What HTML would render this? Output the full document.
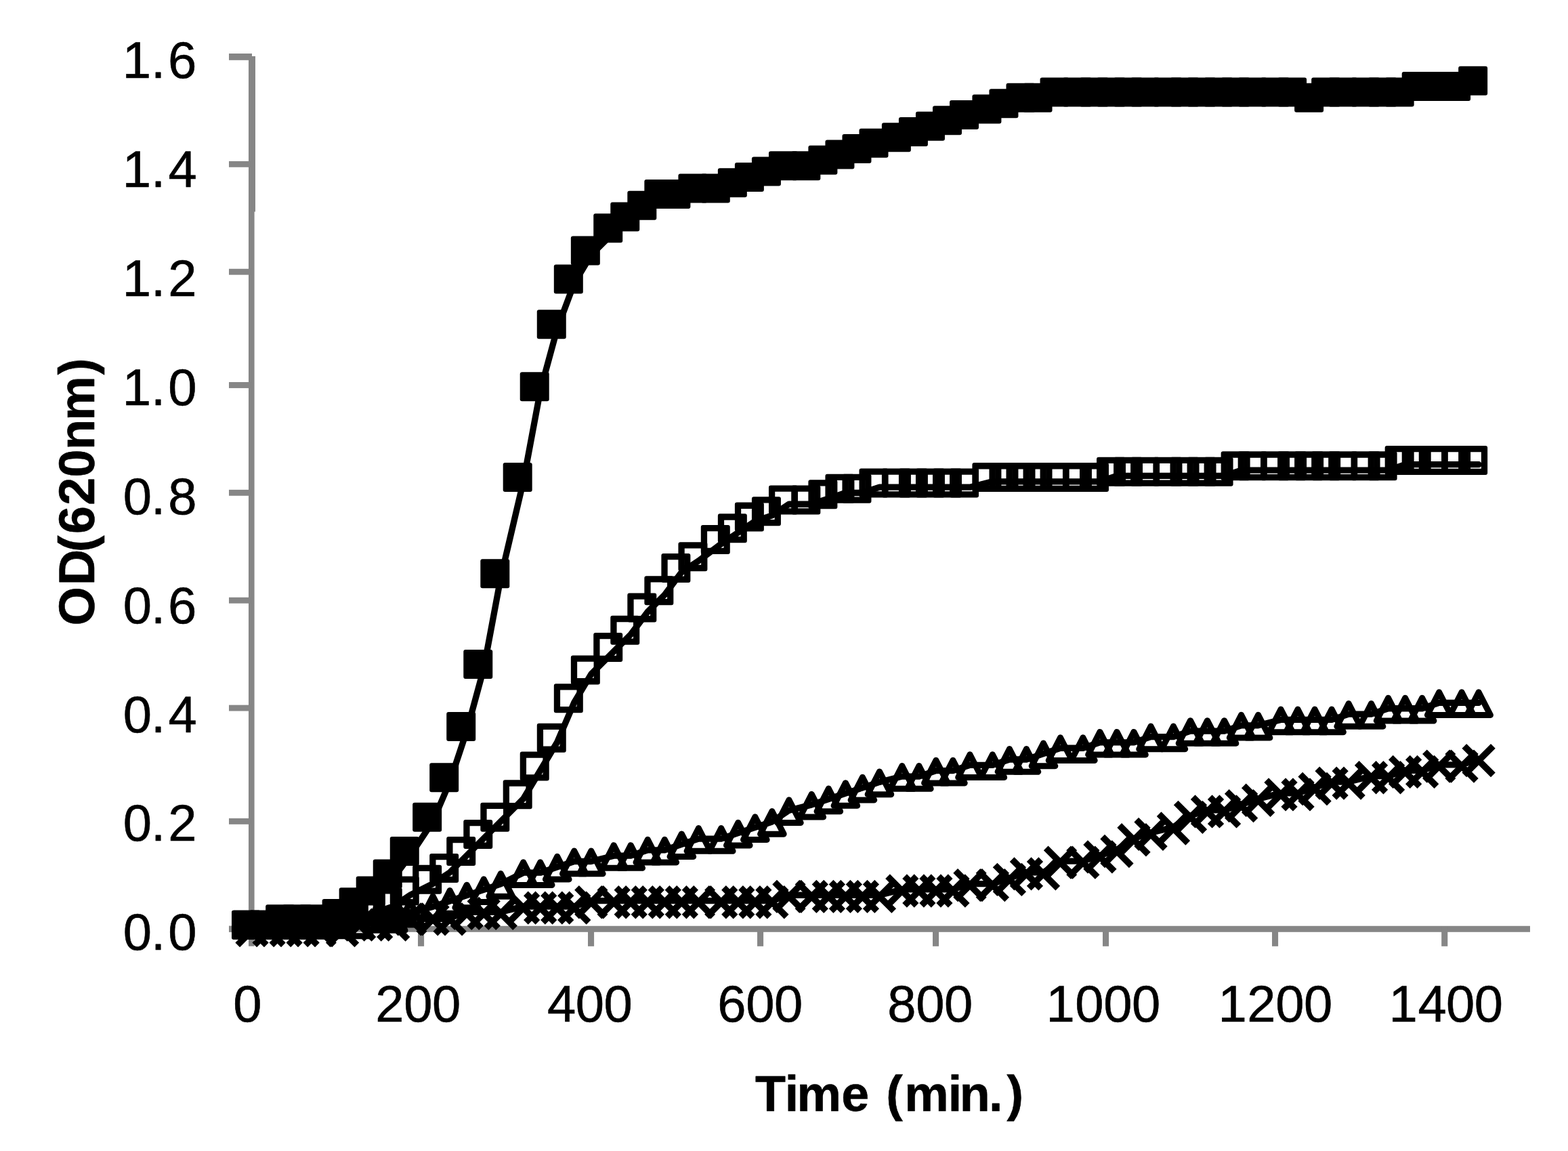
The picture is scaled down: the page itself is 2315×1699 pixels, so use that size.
<!DOCTYPE html>
<html lang="en"><head><meta charset="utf-8"><title>Growth curves: OD(620nm) vs Time (min.)</title>
<style>html,body{margin:0;padding:0;background:#fff}body{width:2315px;height:1699px;overflow:hidden}svg{display:block}text{font-family:"Liberation Sans",sans-serif;fill:#000;stroke:#000;stroke-width:0.6px;stroke-linejoin:round}.tk{font-size:76px}.tt{font-size:73.6px;font-weight:bold}.ln{fill:none;stroke:#000;stroke-width:9.3;stroke-linejoin:round;stroke-linecap:round}.mk{stroke:#000;stroke-width:9;stroke-linejoin:round}.xm{fill:none;stroke:#000;stroke-width:9.5;stroke-linecap:butt}</style></head><body>
<svg width="2315" height="1699" viewBox="0 0 2315 1699">
<rect width="2315" height="1699" fill="#fff"/>
<g fill="#868686">
<rect x="367" y="83" width="8.6" height="1313.7"/>
<rect x="367" y="83" width="10" height="229.5"/>
<rect x="338" y="79.02" width="34" height="9.8"/>
<rect x="338" y="237.9" width="34" height="8.9"/>
<rect x="338" y="396.78" width="34" height="8.9"/>
<rect x="338" y="564.02" width="34" height="8.9"/>
<rect x="338" y="722.89" width="34" height="8.9"/>
<rect x="338" y="881.77" width="34" height="8.9"/>
<rect x="338" y="1040.65" width="34" height="8.9"/>
<rect x="338" y="1207.89" width="34" height="8.9"/>
<rect x="338" y="1366.77" width="34" height="8.9"/>
<rect x="338" y="1366.8" width="1921" height="9"/>
<rect x="617" y="1367" width="9.1" height="29.8"/>
<rect x="868" y="1367" width="9.1" height="29.8"/>
<rect x="1118" y="1367" width="9.1" height="29.8"/>
<rect x="1377" y="1367" width="9.1" height="29.8"/>
<rect x="1628" y="1367" width="9.1" height="29.8"/>
<rect x="1878" y="1367" width="9.1" height="29.8"/>
<rect x="2128.2" y="1367" width="9.1" height="29.8"/>
</g>
<text class="tk" x="180.65 222.94 248.11" y="115.1">1.6</text>
<text class="tk" x="180.65 222.94 248.6" y="276">1.4</text>
<text class="tk" x="180.65 222.94 248.37" y="436.9">1.2</text>
<text class="tk" x="180.65 222.94 248.37" y="597.8">1.0</text>
<text class="tk" x="181.67 222.94 248.37" y="758.7">0.8</text>
<text class="tk" x="181.67 222.94 248.11" y="919.6">0.6</text>
<text class="tk" x="181.67 222.94 248.6" y="1080.5">0.4</text>
<text class="tk" x="181.67 222.94 248.37" y="1241.4">0.2</text>
<text class="tk" x="181.67 222.94 248.37" y="1402.3">0.0</text>
<text class="tk" x="344.17" y="1507.7">0</text>
<text class="tk" x="554.37 596.17 637.97" y="1507.7">200</text>
<text class="tk" x="808.1 849.67 891.47" y="1507.7">400</text>
<text class="tk" x="1059.21 1101.27 1143.07" y="1507.7">600</text>
<text class="tk" x="1310.37 1352.17 1393.97" y="1507.7">800</text>
<text class="tk" x="1544.55 1587.37 1629.17 1670.97" y="1507.7">1000</text>
<text class="tk" x="1798.55 1841.37 1883.17 1924.97" y="1507.7">1200</text>
<text class="tk" x="2050.45 2093.5 2135.07 2176.87" y="1507.7">1400</text>
<text class="tt" y="1639.7" x="1115.12 1158.81 1176.44 1242.26 1281.77 1308.24 1335.34 1399.71 1416.77 1460.01 1486.45">Time (min.)</text>
<text class="tt" transform="translate(139.2 0) rotate(-90)" y="0" x="-923.39 -863.99 -814.96 -787.9 -745.78 -704.42 -664.03 -620.86 -553.15">OD(620nm)</text>
<polyline class="ln" points="372.04,1371.38 397.07,1371.38 422.11,1363.02 447.15,1363.02 472.19,1363.02 505.57,1354.66 530.61,1337.93 555.65,1321.21 580.69,1296.12 605.72,1262.68 639.11,1212.5 664.15,1153.97 689.18,1078.71 714.22,986.73 739.26,852.94 772.64,710.78 797.68,576.99 822.72,485.01 847.76,418.11 872.8,376.3 906.18,342.86 931.22,326.13 956.26,309.41 981.29,292.68 1006.33,292.68 1031.37,284.32 1064.75,284.32 1089.79,275.96 1114.83,267.6 1139.87,259.24 1164.91,250.87 1198.29,250.87 1223.33,242.51 1248.37,234.15 1273.4,225.79 1298.44,217.43 1331.83,209.06 1356.86,200.7 1381.9,192.34 1406.94,183.98 1431.98,175.62 1465.36,167.25 1490.4,158.89 1515.44,150.53 1540.48,150.53 1565.51,142.17 1598.9,142.17 1623.94,142.17 1648.97,142.17 1674.01,142.17 1699.05,142.17 1732.43,142.17 1757.47,142.17 1782.51,142.17 1807.55,142.17 1832.59,142.17 1857.62,142.17 1891.01,142.17 1916.05,142.17 1941.08,150.53 1966.12,142.17 1991.16,142.17 2024.54,142.17 2049.58,142.17 2074.62,142.17 2099.66,133.81 2124.7,133.81 2158.08,133.81 2183.12,125.44"/>
<g fill="#000">
<rect x="342.09" y="1343.68" width="43" height="43" rx="3"/>
<rect x="367.12" y="1343.68" width="43" height="43" rx="3"/>
<rect x="392.16" y="1335.32" width="43" height="43" rx="3"/>
<rect x="417.2" y="1335.32" width="43" height="43" rx="3"/>
<rect x="442.24" y="1335.32" width="43" height="43" rx="3"/>
<rect x="475.62" y="1326.96" width="43" height="43" rx="3"/>
<rect x="500.66" y="1310.23" width="43" height="43" rx="3"/>
<rect x="525.7" y="1293.51" width="43" height="43" rx="3"/>
<rect x="550.74" y="1268.42" width="43" height="43" rx="3"/>
<rect x="575.77" y="1234.98" width="43" height="43" rx="3"/>
<rect x="609.16" y="1184.8" width="43" height="43" rx="3"/>
<rect x="634.2" y="1126.27" width="43" height="43" rx="3"/>
<rect x="659.23" y="1051.01" width="43" height="43" rx="3"/>
<rect x="684.27" y="959.03" width="43" height="43" rx="3"/>
<rect x="709.31" y="825.24" width="43" height="43" rx="3"/>
<rect x="742.69" y="683.08" width="43" height="43" rx="3"/>
<rect x="767.73" y="549.29" width="43" height="43" rx="3"/>
<rect x="792.77" y="457.31" width="43" height="43" rx="3"/>
<rect x="817.81" y="390.41" width="43" height="43" rx="3"/>
<rect x="842.85" y="348.6" width="43" height="43" rx="3"/>
<rect x="876.23" y="315.16" width="43" height="43" rx="3"/>
<rect x="901.27" y="298.43" width="43" height="43" rx="3"/>
<rect x="926.31" y="281.71" width="43" height="43" rx="3"/>
<rect x="951.34" y="264.98" width="43" height="43" rx="3"/>
<rect x="976.38" y="264.98" width="43" height="43" rx="3"/>
<rect x="1001.42" y="256.62" width="43" height="43" rx="3"/>
<rect x="1034.8" y="256.62" width="43" height="43" rx="3"/>
<rect x="1059.84" y="248.26" width="43" height="43" rx="3"/>
<rect x="1084.88" y="239.9" width="43" height="43" rx="3"/>
<rect x="1109.92" y="231.54" width="43" height="43" rx="3"/>
<rect x="1134.96" y="223.17" width="43" height="43" rx="3"/>
<rect x="1168.34" y="223.17" width="43" height="43" rx="3"/>
<rect x="1193.38" y="214.81" width="43" height="43" rx="3"/>
<rect x="1218.42" y="206.45" width="43" height="43" rx="3"/>
<rect x="1243.45" y="198.09" width="43" height="43" rx="3"/>
<rect x="1268.49" y="189.73" width="43" height="43" rx="3"/>
<rect x="1301.88" y="181.36" width="43" height="43" rx="3"/>
<rect x="1326.91" y="173" width="43" height="43" rx="3"/>
<rect x="1351.95" y="164.64" width="43" height="43" rx="3"/>
<rect x="1376.99" y="156.28" width="43" height="43" rx="3"/>
<rect x="1402.03" y="147.92" width="43" height="43" rx="3"/>
<rect x="1435.41" y="139.55" width="43" height="43" rx="3"/>
<rect x="1460.45" y="131.19" width="43" height="43" rx="3"/>
<rect x="1485.49" y="122.83" width="43" height="43" rx="3"/>
<rect x="1510.53" y="122.83" width="43" height="43" rx="3"/>
<rect x="1535.56" y="114.47" width="43" height="43" rx="3"/>
<rect x="1568.95" y="114.47" width="43" height="43" rx="3"/>
<rect x="1593.99" y="114.47" width="43" height="43" rx="3"/>
<rect x="1619.02" y="114.47" width="43" height="43" rx="3"/>
<rect x="1644.06" y="114.47" width="43" height="43" rx="3"/>
<rect x="1669.1" y="114.47" width="43" height="43" rx="3"/>
<rect x="1702.48" y="114.47" width="43" height="43" rx="3"/>
<rect x="1727.52" y="114.47" width="43" height="43" rx="3"/>
<rect x="1752.56" y="114.47" width="43" height="43" rx="3"/>
<rect x="1777.6" y="114.47" width="43" height="43" rx="3"/>
<rect x="1802.64" y="114.47" width="43" height="43" rx="3"/>
<rect x="1827.67" y="114.47" width="43" height="43" rx="3"/>
<rect x="1861.06" y="114.47" width="43" height="43" rx="3"/>
<rect x="1886.1" y="114.47" width="43" height="43" rx="3"/>
<rect x="1911.13" y="122.83" width="43" height="43" rx="3"/>
<rect x="1936.17" y="114.47" width="43" height="43" rx="3"/>
<rect x="1961.21" y="114.47" width="43" height="43" rx="3"/>
<rect x="1994.59" y="114.47" width="43" height="43" rx="3"/>
<rect x="2019.63" y="114.47" width="43" height="43" rx="3"/>
<rect x="2044.67" y="114.47" width="43" height="43" rx="3"/>
<rect x="2069.71" y="106.11" width="43" height="43" rx="3"/>
<rect x="2094.75" y="106.11" width="43" height="43" rx="3"/>
<rect x="2128.13" y="106.11" width="43" height="43" rx="3"/>
<rect x="2153.17" y="97.74" width="43" height="43" rx="3"/>
</g>
<polyline class="ln" points="372.04,1371.38 397.07,1371.38 422.11,1371.38 447.15,1371.38 472.19,1371.38 505.57,1363.02 530.61,1354.66 555.65,1346.3 580.69,1337.93 605.72,1321.21 639.11,1304.49 664.15,1287.76 689.18,1262.68 714.22,1237.59 739.26,1212.5 772.64,1179.06 797.68,1137.25 822.72,1095.44 847.76,1036.9 872.8,995.09 906.18,961.64 931.22,936.56 956.26,903.11 981.29,878.02 1006.33,844.58 1031.37,827.85 1064.75,802.77 1089.79,786.04 1114.83,769.32 1139.87,760.96 1164.91,744.23 1198.29,744.23 1223.33,735.87 1248.37,727.51 1273.4,727.51 1298.44,719.15 1331.83,719.15 1356.86,719.15 1381.9,719.15 1406.94,719.15 1431.98,719.15 1465.36,710.78 1490.4,710.78 1515.44,710.78 1540.48,710.78 1565.51,710.78 1598.9,710.78 1623.94,710.78 1648.97,702.42 1674.01,702.42 1699.05,702.42 1732.43,702.42 1757.47,702.42 1782.51,702.42 1807.55,702.42 1832.59,694.06 1857.62,694.06 1891.01,694.06 1916.05,694.06 1941.08,694.06 1966.12,694.06 1991.16,694.06 2024.54,694.06 2049.58,694.06 2074.62,685.7 2099.66,685.7 2124.7,685.7 2158.08,685.7 2183.12,685.7"/>
<g fill="#000" fill-rule="evenodd">
<path d="M345.09 1343.68h37a3 3 0 0 1 3 3v37a3 3 0 0 1 -3 3h-37a3 3 0 0 1 -3 -3v-37a3 3 0 0 1 3 -3zM351.39 1352.98v24.4h24.4v-24.4z"/>
<path d="M370.12 1343.68h37a3 3 0 0 1 3 3v37a3 3 0 0 1 -3 3h-37a3 3 0 0 1 -3 -3v-37a3 3 0 0 1 3 -3zM376.42 1352.98v24.4h24.4v-24.4z"/>
<path d="M395.16 1343.68h37a3 3 0 0 1 3 3v37a3 3 0 0 1 -3 3h-37a3 3 0 0 1 -3 -3v-37a3 3 0 0 1 3 -3zM401.46 1352.98v24.4h24.4v-24.4z"/>
<path d="M420.2 1343.68h37a3 3 0 0 1 3 3v37a3 3 0 0 1 -3 3h-37a3 3 0 0 1 -3 -3v-37a3 3 0 0 1 3 -3zM426.5 1352.98v24.4h24.4v-24.4z"/>
<path d="M445.24 1343.68h37a3 3 0 0 1 3 3v37a3 3 0 0 1 -3 3h-37a3 3 0 0 1 -3 -3v-37a3 3 0 0 1 3 -3zM451.54 1352.98v24.4h24.4v-24.4z"/>
<path d="M478.62 1335.32h37a3 3 0 0 1 3 3v37a3 3 0 0 1 -3 3h-37a3 3 0 0 1 -3 -3v-37a3 3 0 0 1 3 -3zM484.92 1344.62v24.4h24.4v-24.4z"/>
<path d="M503.66 1326.96h37a3 3 0 0 1 3 3v37a3 3 0 0 1 -3 3h-37a3 3 0 0 1 -3 -3v-37a3 3 0 0 1 3 -3zM509.96 1336.26v24.4h24.4v-24.4z"/>
<path d="M528.7 1318.6h37a3 3 0 0 1 3 3v37a3 3 0 0 1 -3 3h-37a3 3 0 0 1 -3 -3v-37a3 3 0 0 1 3 -3zM535 1327.9v24.4h24.4v-24.4z"/>
<path d="M553.74 1310.23h37a3 3 0 0 1 3 3v37a3 3 0 0 1 -3 3h-37a3 3 0 0 1 -3 -3v-37a3 3 0 0 1 3 -3zM560.04 1319.53v24.4h24.4v-24.4z"/>
<path d="M578.77 1293.51h37a3 3 0 0 1 3 3v37a3 3 0 0 1 -3 3h-37a3 3 0 0 1 -3 -3v-37a3 3 0 0 1 3 -3zM585.07 1302.81v24.4h24.4v-24.4z"/>
<path d="M612.16 1276.79h37a3 3 0 0 1 3 3v37a3 3 0 0 1 -3 3h-37a3 3 0 0 1 -3 -3v-37a3 3 0 0 1 3 -3zM618.46 1286.09v24.4h24.4v-24.4z"/>
<path d="M637.2 1260.06h37a3 3 0 0 1 3 3v37a3 3 0 0 1 -3 3h-37a3 3 0 0 1 -3 -3v-37a3 3 0 0 1 3 -3zM643.5 1269.36v24.4h24.4v-24.4z"/>
<path d="M662.23 1234.98h37a3 3 0 0 1 3 3v37a3 3 0 0 1 -3 3h-37a3 3 0 0 1 -3 -3v-37a3 3 0 0 1 3 -3zM668.53 1244.28v24.4h24.4v-24.4z"/>
<path d="M687.27 1209.89h37a3 3 0 0 1 3 3v37a3 3 0 0 1 -3 3h-37a3 3 0 0 1 -3 -3v-37a3 3 0 0 1 3 -3zM693.57 1219.19v24.4h24.4v-24.4z"/>
<path d="M712.31 1184.8h37a3 3 0 0 1 3 3v37a3 3 0 0 1 -3 3h-37a3 3 0 0 1 -3 -3v-37a3 3 0 0 1 3 -3zM718.61 1194.1v24.4h24.4v-24.4z"/>
<path d="M745.69 1151.36h37a3 3 0 0 1 3 3v37a3 3 0 0 1 -3 3h-37a3 3 0 0 1 -3 -3v-37a3 3 0 0 1 3 -3zM751.99 1160.66v24.4h24.4v-24.4z"/>
<path d="M770.73 1109.55h37a3 3 0 0 1 3 3v37a3 3 0 0 1 -3 3h-37a3 3 0 0 1 -3 -3v-37a3 3 0 0 1 3 -3zM777.03 1118.85v24.4h24.4v-24.4z"/>
<path d="M795.77 1067.74h37a3 3 0 0 1 3 3v37a3 3 0 0 1 -3 3h-37a3 3 0 0 1 -3 -3v-37a3 3 0 0 1 3 -3zM802.07 1077.04v24.4h24.4v-24.4z"/>
<path d="M820.81 1009.2h37a3 3 0 0 1 3 3v37a3 3 0 0 1 -3 3h-37a3 3 0 0 1 -3 -3v-37a3 3 0 0 1 3 -3zM827.11 1018.5v24.4h24.4v-24.4z"/>
<path d="M845.85 967.39h37a3 3 0 0 1 3 3v37a3 3 0 0 1 -3 3h-37a3 3 0 0 1 -3 -3v-37a3 3 0 0 1 3 -3zM852.15 976.69v24.4h24.4v-24.4z"/>
<path d="M879.23 933.94h37a3 3 0 0 1 3 3v37a3 3 0 0 1 -3 3h-37a3 3 0 0 1 -3 -3v-37a3 3 0 0 1 3 -3zM885.53 943.24v24.4h24.4v-24.4z"/>
<path d="M904.27 908.86h37a3 3 0 0 1 3 3v37a3 3 0 0 1 -3 3h-37a3 3 0 0 1 -3 -3v-37a3 3 0 0 1 3 -3zM910.57 918.16v24.4h24.4v-24.4z"/>
<path d="M929.31 875.41h37a3 3 0 0 1 3 3v37a3 3 0 0 1 -3 3h-37a3 3 0 0 1 -3 -3v-37a3 3 0 0 1 3 -3zM935.61 884.71v24.4h24.4v-24.4z"/>
<path d="M954.34 850.32h37a3 3 0 0 1 3 3v37a3 3 0 0 1 -3 3h-37a3 3 0 0 1 -3 -3v-37a3 3 0 0 1 3 -3zM960.64 859.62v24.4h24.4v-24.4z"/>
<path d="M979.38 816.88h37a3 3 0 0 1 3 3v37a3 3 0 0 1 -3 3h-37a3 3 0 0 1 -3 -3v-37a3 3 0 0 1 3 -3zM985.68 826.18v24.4h24.4v-24.4z"/>
<path d="M1004.42 800.15h37a3 3 0 0 1 3 3v37a3 3 0 0 1 -3 3h-37a3 3 0 0 1 -3 -3v-37a3 3 0 0 1 3 -3zM1010.72 809.45v24.4h24.4v-24.4z"/>
<path d="M1037.8 775.07h37a3 3 0 0 1 3 3v37a3 3 0 0 1 -3 3h-37a3 3 0 0 1 -3 -3v-37a3 3 0 0 1 3 -3zM1044.1 784.37v24.4h24.4v-24.4z"/>
<path d="M1062.84 758.34h37a3 3 0 0 1 3 3v37a3 3 0 0 1 -3 3h-37a3 3 0 0 1 -3 -3v-37a3 3 0 0 1 3 -3zM1069.14 767.64v24.4h24.4v-24.4z"/>
<path d="M1087.88 741.62h37a3 3 0 0 1 3 3v37a3 3 0 0 1 -3 3h-37a3 3 0 0 1 -3 -3v-37a3 3 0 0 1 3 -3zM1094.18 750.92v24.4h24.4v-24.4z"/>
<path d="M1112.92 733.26h37a3 3 0 0 1 3 3v37a3 3 0 0 1 -3 3h-37a3 3 0 0 1 -3 -3v-37a3 3 0 0 1 3 -3zM1119.22 742.56v24.4h24.4v-24.4z"/>
<path d="M1137.96 716.53h37a3 3 0 0 1 3 3v37a3 3 0 0 1 -3 3h-37a3 3 0 0 1 -3 -3v-37a3 3 0 0 1 3 -3zM1144.26 725.83v24.4h24.4v-24.4z"/>
<path d="M1171.34 716.53h37a3 3 0 0 1 3 3v37a3 3 0 0 1 -3 3h-37a3 3 0 0 1 -3 -3v-37a3 3 0 0 1 3 -3zM1177.64 725.83v24.4h24.4v-24.4z"/>
<path d="M1196.38 708.17h37a3 3 0 0 1 3 3v37a3 3 0 0 1 -3 3h-37a3 3 0 0 1 -3 -3v-37a3 3 0 0 1 3 -3zM1202.68 717.47v24.4h24.4v-24.4z"/>
<path d="M1221.42 699.81h37a3 3 0 0 1 3 3v37a3 3 0 0 1 -3 3h-37a3 3 0 0 1 -3 -3v-37a3 3 0 0 1 3 -3zM1227.72 709.11v24.4h24.4v-24.4z"/>
<path d="M1246.45 699.81h37a3 3 0 0 1 3 3v37a3 3 0 0 1 -3 3h-37a3 3 0 0 1 -3 -3v-37a3 3 0 0 1 3 -3zM1252.75 709.11v24.4h24.4v-24.4z"/>
<path d="M1271.49 691.45h37a3 3 0 0 1 3 3v37a3 3 0 0 1 -3 3h-37a3 3 0 0 1 -3 -3v-37a3 3 0 0 1 3 -3zM1277.79 700.75v24.4h24.4v-24.4z"/>
<path d="M1304.88 691.45h37a3 3 0 0 1 3 3v37a3 3 0 0 1 -3 3h-37a3 3 0 0 1 -3 -3v-37a3 3 0 0 1 3 -3zM1311.18 700.75v24.4h24.4v-24.4z"/>
<path d="M1329.91 691.45h37a3 3 0 0 1 3 3v37a3 3 0 0 1 -3 3h-37a3 3 0 0 1 -3 -3v-37a3 3 0 0 1 3 -3zM1336.21 700.75v24.4h24.4v-24.4z"/>
<path d="M1354.95 691.45h37a3 3 0 0 1 3 3v37a3 3 0 0 1 -3 3h-37a3 3 0 0 1 -3 -3v-37a3 3 0 0 1 3 -3zM1361.25 700.75v24.4h24.4v-24.4z"/>
<path d="M1379.99 691.45h37a3 3 0 0 1 3 3v37a3 3 0 0 1 -3 3h-37a3 3 0 0 1 -3 -3v-37a3 3 0 0 1 3 -3zM1386.29 700.75v24.4h24.4v-24.4z"/>
<path d="M1405.03 691.45h37a3 3 0 0 1 3 3v37a3 3 0 0 1 -3 3h-37a3 3 0 0 1 -3 -3v-37a3 3 0 0 1 3 -3zM1411.33 700.75v24.4h24.4v-24.4z"/>
<path d="M1438.41 683.08h37a3 3 0 0 1 3 3v37a3 3 0 0 1 -3 3h-37a3 3 0 0 1 -3 -3v-37a3 3 0 0 1 3 -3zM1444.71 692.38v24.4h24.4v-24.4z"/>
<path d="M1463.45 683.08h37a3 3 0 0 1 3 3v37a3 3 0 0 1 -3 3h-37a3 3 0 0 1 -3 -3v-37a3 3 0 0 1 3 -3zM1469.75 692.38v24.4h24.4v-24.4z"/>
<path d="M1488.49 683.08h37a3 3 0 0 1 3 3v37a3 3 0 0 1 -3 3h-37a3 3 0 0 1 -3 -3v-37a3 3 0 0 1 3 -3zM1494.79 692.38v24.4h24.4v-24.4z"/>
<path d="M1513.53 683.08h37a3 3 0 0 1 3 3v37a3 3 0 0 1 -3 3h-37a3 3 0 0 1 -3 -3v-37a3 3 0 0 1 3 -3zM1519.83 692.38v24.4h24.4v-24.4z"/>
<path d="M1538.56 683.08h37a3 3 0 0 1 3 3v37a3 3 0 0 1 -3 3h-37a3 3 0 0 1 -3 -3v-37a3 3 0 0 1 3 -3zM1544.86 692.38v24.4h24.4v-24.4z"/>
<path d="M1571.95 683.08h37a3 3 0 0 1 3 3v37a3 3 0 0 1 -3 3h-37a3 3 0 0 1 -3 -3v-37a3 3 0 0 1 3 -3zM1578.25 692.38v24.4h24.4v-24.4z"/>
<path d="M1596.99 683.08h37a3 3 0 0 1 3 3v37a3 3 0 0 1 -3 3h-37a3 3 0 0 1 -3 -3v-37a3 3 0 0 1 3 -3zM1603.29 692.38v24.4h24.4v-24.4z"/>
<path d="M1622.02 674.72h37a3 3 0 0 1 3 3v37a3 3 0 0 1 -3 3h-37a3 3 0 0 1 -3 -3v-37a3 3 0 0 1 3 -3zM1628.32 684.02v24.4h24.4v-24.4z"/>
<path d="M1647.06 674.72h37a3 3 0 0 1 3 3v37a3 3 0 0 1 -3 3h-37a3 3 0 0 1 -3 -3v-37a3 3 0 0 1 3 -3zM1653.36 684.02v24.4h24.4v-24.4z"/>
<path d="M1672.1 674.72h37a3 3 0 0 1 3 3v37a3 3 0 0 1 -3 3h-37a3 3 0 0 1 -3 -3v-37a3 3 0 0 1 3 -3zM1678.4 684.02v24.4h24.4v-24.4z"/>
<path d="M1705.48 674.72h37a3 3 0 0 1 3 3v37a3 3 0 0 1 -3 3h-37a3 3 0 0 1 -3 -3v-37a3 3 0 0 1 3 -3zM1711.78 684.02v24.4h24.4v-24.4z"/>
<path d="M1730.52 674.72h37a3 3 0 0 1 3 3v37a3 3 0 0 1 -3 3h-37a3 3 0 0 1 -3 -3v-37a3 3 0 0 1 3 -3zM1736.82 684.02v24.4h24.4v-24.4z"/>
<path d="M1755.56 674.72h37a3 3 0 0 1 3 3v37a3 3 0 0 1 -3 3h-37a3 3 0 0 1 -3 -3v-37a3 3 0 0 1 3 -3zM1761.86 684.02v24.4h24.4v-24.4z"/>
<path d="M1780.6 674.72h37a3 3 0 0 1 3 3v37a3 3 0 0 1 -3 3h-37a3 3 0 0 1 -3 -3v-37a3 3 0 0 1 3 -3zM1786.9 684.02v24.4h24.4v-24.4z"/>
<path d="M1805.64 666.36h37a3 3 0 0 1 3 3v37a3 3 0 0 1 -3 3h-37a3 3 0 0 1 -3 -3v-37a3 3 0 0 1 3 -3zM1811.94 675.66v24.4h24.4v-24.4z"/>
<path d="M1830.67 666.36h37a3 3 0 0 1 3 3v37a3 3 0 0 1 -3 3h-37a3 3 0 0 1 -3 -3v-37a3 3 0 0 1 3 -3zM1836.97 675.66v24.4h24.4v-24.4z"/>
<path d="M1864.06 666.36h37a3 3 0 0 1 3 3v37a3 3 0 0 1 -3 3h-37a3 3 0 0 1 -3 -3v-37a3 3 0 0 1 3 -3zM1870.36 675.66v24.4h24.4v-24.4z"/>
<path d="M1889.1 666.36h37a3 3 0 0 1 3 3v37a3 3 0 0 1 -3 3h-37a3 3 0 0 1 -3 -3v-37a3 3 0 0 1 3 -3zM1895.4 675.66v24.4h24.4v-24.4z"/>
<path d="M1914.13 666.36h37a3 3 0 0 1 3 3v37a3 3 0 0 1 -3 3h-37a3 3 0 0 1 -3 -3v-37a3 3 0 0 1 3 -3zM1920.43 675.66v24.4h24.4v-24.4z"/>
<path d="M1939.17 666.36h37a3 3 0 0 1 3 3v37a3 3 0 0 1 -3 3h-37a3 3 0 0 1 -3 -3v-37a3 3 0 0 1 3 -3zM1945.47 675.66v24.4h24.4v-24.4z"/>
<path d="M1964.21 666.36h37a3 3 0 0 1 3 3v37a3 3 0 0 1 -3 3h-37a3 3 0 0 1 -3 -3v-37a3 3 0 0 1 3 -3zM1970.51 675.66v24.4h24.4v-24.4z"/>
<path d="M1997.59 666.36h37a3 3 0 0 1 3 3v37a3 3 0 0 1 -3 3h-37a3 3 0 0 1 -3 -3v-37a3 3 0 0 1 3 -3zM2003.89 675.66v24.4h24.4v-24.4z"/>
<path d="M2022.63 666.36h37a3 3 0 0 1 3 3v37a3 3 0 0 1 -3 3h-37a3 3 0 0 1 -3 -3v-37a3 3 0 0 1 3 -3zM2028.93 675.66v24.4h24.4v-24.4z"/>
<path d="M2047.67 658h37a3 3 0 0 1 3 3v37a3 3 0 0 1 -3 3h-37a3 3 0 0 1 -3 -3v-37a3 3 0 0 1 3 -3zM2053.97 667.3v24.4h24.4v-24.4z"/>
<path d="M2072.71 658h37a3 3 0 0 1 3 3v37a3 3 0 0 1 -3 3h-37a3 3 0 0 1 -3 -3v-37a3 3 0 0 1 3 -3zM2079.01 667.3v24.4h24.4v-24.4z"/>
<path d="M2097.75 658h37a3 3 0 0 1 3 3v37a3 3 0 0 1 -3 3h-37a3 3 0 0 1 -3 -3v-37a3 3 0 0 1 3 -3zM2104.05 667.3v24.4h24.4v-24.4z"/>
<path d="M2131.13 658h37a3 3 0 0 1 3 3v37a3 3 0 0 1 -3 3h-37a3 3 0 0 1 -3 -3v-37a3 3 0 0 1 3 -3zM2137.43 667.3v24.4h24.4v-24.4z"/>
<path d="M2156.17 658h37a3 3 0 0 1 3 3v37a3 3 0 0 1 -3 3h-37a3 3 0 0 1 -3 -3v-37a3 3 0 0 1 3 -3zM2162.47 667.3v24.4h24.4v-24.4z"/>
</g>
<polyline class="ln" points="372.04,1363.48 397.07,1363.48 422.11,1363.48 447.15,1363.48 472.19,1363.48 505.57,1363.48 530.61,1363.48 555.65,1355.12 580.69,1355.12 605.72,1346.76 639.11,1338.4 664.15,1330.03 689.18,1321.67 714.22,1313.31 739.26,1304.95 772.64,1288.22 797.68,1288.22 822.72,1279.86 847.76,1271.5 872.8,1271.5 906.18,1263.14 931.22,1263.14 956.26,1254.78 981.29,1254.78 1006.33,1246.41 1031.37,1238.05 1064.75,1238.05 1089.79,1229.69 1114.83,1221.33 1139.87,1212.97 1164.91,1196.24 1198.29,1187.88 1223.33,1179.52 1248.37,1171.16 1273.4,1162.79 1298.44,1154.43 1331.83,1146.07 1356.86,1146.07 1381.9,1137.71 1406.94,1137.71 1431.98,1129.35 1465.36,1129.35 1490.4,1120.98 1515.44,1120.98 1540.48,1112.62 1565.51,1104.26 1598.9,1104.26 1623.94,1095.9 1648.97,1095.9 1674.01,1095.9 1699.05,1087.54 1732.43,1087.54 1757.47,1079.17 1782.51,1079.17 1807.55,1079.17 1832.59,1070.81 1857.62,1070.81 1891.01,1062.45 1916.05,1062.45 1941.08,1062.45 1966.12,1062.45 1991.16,1054.09 2024.54,1054.09 2049.58,1045.73 2074.62,1045.73 2099.66,1045.73 2124.7,1037.36 2158.08,1037.36 2183.12,1037.36"/>
<g class="mk" fill="none">
<path d="M372.04 1347.98L389.34 1381.68L354.74 1381.68Z"/>
<path d="M397.07 1347.98L414.37 1381.68L379.77 1381.68Z"/>
<path d="M422.11 1347.98L439.41 1381.68L404.81 1381.68Z"/>
<path d="M447.15 1347.98L464.45 1381.68L429.85 1381.68Z"/>
<path d="M472.19 1347.98L489.49 1381.68L454.89 1381.68Z"/>
<path d="M505.57 1347.98L522.87 1381.68L488.27 1381.68Z"/>
<path d="M530.61 1347.98L547.91 1381.68L513.31 1381.68Z"/>
<path d="M555.65 1339.62L572.95 1373.32L538.35 1373.32Z"/>
<path d="M580.69 1339.62L597.99 1373.32L563.39 1373.32Z"/>
<path d="M605.72 1331.26L623.02 1364.96L588.42 1364.96Z"/>
<path d="M639.11 1322.9L656.41 1356.6L621.81 1356.6Z"/>
<path d="M664.15 1314.53L681.45 1348.23L646.85 1348.23Z"/>
<path d="M689.18 1306.17L706.48 1339.87L671.88 1339.87Z"/>
<path d="M714.22 1297.81L731.52 1331.51L696.92 1331.51Z"/>
<path d="M739.26 1289.45L756.56 1323.15L721.96 1323.15Z"/>
<path d="M772.64 1272.72L789.94 1306.42L755.34 1306.42Z"/>
<path d="M797.68 1272.72L814.98 1306.42L780.38 1306.42Z"/>
<path d="M822.72 1264.36L840.02 1298.06L805.42 1298.06Z"/>
<path d="M847.76 1256L865.06 1289.7L830.46 1289.7Z"/>
<path d="M872.8 1256L890.1 1289.7L855.5 1289.7Z"/>
<path d="M906.18 1247.64L923.48 1281.34L888.88 1281.34Z"/>
<path d="M931.22 1247.64L948.52 1281.34L913.92 1281.34Z"/>
<path d="M956.26 1239.28L973.56 1272.98L938.96 1272.98Z"/>
<path d="M981.29 1239.28L998.59 1272.98L963.99 1272.98Z"/>
<path d="M1006.33 1230.91L1023.63 1264.61L989.03 1264.61Z"/>
<path d="M1031.37 1222.55L1048.67 1256.25L1014.07 1256.25Z"/>
<path d="M1064.75 1222.55L1082.05 1256.25L1047.45 1256.25Z"/>
<path d="M1089.79 1214.19L1107.09 1247.89L1072.49 1247.89Z"/>
<path d="M1114.83 1205.83L1132.13 1239.53L1097.53 1239.53Z"/>
<path d="M1139.87 1197.47L1157.17 1231.17L1122.57 1231.17Z"/>
<path d="M1164.91 1180.74L1182.21 1214.44L1147.61 1214.44Z"/>
<path d="M1198.29 1172.38L1215.59 1206.08L1180.99 1206.08Z"/>
<path d="M1223.33 1164.02L1240.63 1197.72L1206.03 1197.72Z"/>
<path d="M1248.37 1155.66L1265.67 1189.36L1231.07 1189.36Z"/>
<path d="M1273.4 1147.29L1290.7 1180.99L1256.1 1180.99Z"/>
<path d="M1298.44 1138.93L1315.74 1172.63L1281.14 1172.63Z"/>
<path d="M1331.83 1130.57L1349.13 1164.27L1314.53 1164.27Z"/>
<path d="M1356.86 1130.57L1374.16 1164.27L1339.56 1164.27Z"/>
<path d="M1381.9 1122.21L1399.2 1155.91L1364.6 1155.91Z"/>
<path d="M1406.94 1122.21L1424.24 1155.91L1389.64 1155.91Z"/>
<path d="M1431.98 1113.85L1449.28 1147.55L1414.68 1147.55Z"/>
<path d="M1465.36 1113.85L1482.66 1147.55L1448.06 1147.55Z"/>
<path d="M1490.4 1105.48L1507.7 1139.18L1473.1 1139.18Z"/>
<path d="M1515.44 1105.48L1532.74 1139.18L1498.14 1139.18Z"/>
<path d="M1540.48 1097.12L1557.78 1130.82L1523.18 1130.82Z"/>
<path d="M1565.51 1088.76L1582.81 1122.46L1548.21 1122.46Z"/>
<path d="M1598.9 1088.76L1616.2 1122.46L1581.6 1122.46Z"/>
<path d="M1623.94 1080.4L1641.24 1114.1L1606.64 1114.1Z"/>
<path d="M1648.97 1080.4L1666.27 1114.1L1631.67 1114.1Z"/>
<path d="M1674.01 1080.4L1691.31 1114.1L1656.71 1114.1Z"/>
<path d="M1699.05 1072.04L1716.35 1105.74L1681.75 1105.74Z"/>
<path d="M1732.43 1072.04L1749.73 1105.74L1715.13 1105.74Z"/>
<path d="M1757.47 1063.67L1774.77 1097.37L1740.17 1097.37Z"/>
<path d="M1782.51 1063.67L1799.81 1097.37L1765.21 1097.37Z"/>
<path d="M1807.55 1063.67L1824.85 1097.37L1790.25 1097.37Z"/>
<path d="M1832.59 1055.31L1849.89 1089.01L1815.29 1089.01Z"/>
<path d="M1857.62 1055.31L1874.92 1089.01L1840.32 1089.01Z"/>
<path d="M1891.01 1046.95L1908.31 1080.65L1873.71 1080.65Z"/>
<path d="M1916.05 1046.95L1933.35 1080.65L1898.75 1080.65Z"/>
<path d="M1941.08 1046.95L1958.38 1080.65L1923.78 1080.65Z"/>
<path d="M1966.12 1046.95L1983.42 1080.65L1948.82 1080.65Z"/>
<path d="M1991.16 1038.59L2008.46 1072.29L1973.86 1072.29Z"/>
<path d="M2024.54 1038.59L2041.84 1072.29L2007.24 1072.29Z"/>
<path d="M2049.58 1030.23L2066.88 1063.93L2032.28 1063.93Z"/>
<path d="M2074.62 1030.23L2091.92 1063.93L2057.32 1063.93Z"/>
<path d="M2099.66 1030.23L2116.96 1063.93L2082.36 1063.93Z"/>
<path d="M2124.7 1021.86L2142 1055.56L2107.4 1055.56Z"/>
<path d="M2158.08 1021.86L2175.38 1055.56L2140.78 1055.56Z"/>
<path d="M2183.12 1021.86L2200.42 1055.56L2165.82 1055.56Z"/>
</g>
<polyline class="ln" points="372.04,1371.44 397.07,1371.44 422.11,1371.44 447.15,1371.44 472.19,1371.44 505.57,1371.44 530.61,1363.08 555.65,1363.08 580.69,1363.08 605.72,1354.72 639.11,1354.72 664.15,1354.72 689.18,1346.36 714.22,1346.36 739.26,1346.36 772.64,1338 797.68,1338 822.72,1338 847.76,1338 872.8,1329.63 906.18,1329.63 931.22,1329.63 956.26,1329.63 981.29,1329.63 1006.33,1329.63 1031.37,1329.63 1064.75,1329.63 1089.79,1329.63 1114.83,1329.63 1139.87,1329.63 1164.91,1321.27 1198.29,1321.27 1223.33,1321.27 1248.37,1321.27 1273.4,1321.27 1298.44,1321.27 1331.83,1312.91 1356.86,1312.91 1381.9,1312.91 1406.94,1312.91 1431.98,1304.55 1465.36,1304.55 1490.4,1296.19 1515.44,1287.82 1540.48,1287.82 1565.51,1271.1 1598.9,1271.1 1623.94,1262.74 1648.97,1254.38 1674.01,1237.65 1699.05,1229.29 1732.43,1220.93 1757.47,1204.2 1782.51,1195.84 1807.55,1195.84 1832.59,1187.48 1857.62,1179.12 1891.01,1170.76 1916.05,1170.76 1941.08,1162.39 1966.12,1154.03 1991.16,1154.03 2024.54,1145.67 2049.58,1145.67 2074.62,1137.31 2099.66,1137.31 2124.7,1128.95 2158.08,1128.95 2183.12,1120.58"/>
<g class="xm">
<path d="M350.74 1352.24L393.34 1394.84M350.74 1394.84L393.34 1352.24"/>
<path d="M375.77 1352.24L418.37 1394.84M375.77 1394.84L418.37 1352.24"/>
<path d="M400.81 1352.24L443.41 1394.84M400.81 1394.84L443.41 1352.24"/>
<path d="M425.85 1352.24L468.45 1394.84M425.85 1394.84L468.45 1352.24"/>
<path d="M450.89 1352.24L493.49 1394.84M450.89 1394.84L493.49 1352.24"/>
<path d="M484.27 1352.24L526.87 1394.84M484.27 1394.84L526.87 1352.24"/>
<path d="M509.31 1343.88L551.91 1386.48M509.31 1386.48L551.91 1343.88"/>
<path d="M534.35 1343.88L576.95 1386.48M534.35 1386.48L576.95 1343.88"/>
<path d="M559.39 1343.88L601.99 1386.48M559.39 1386.48L601.99 1343.88"/>
<path d="M584.42 1335.52L627.02 1378.12M584.42 1378.12L627.02 1335.52"/>
<path d="M617.81 1335.52L660.41 1378.12M617.81 1378.12L660.41 1335.52"/>
<path d="M642.85 1335.52L685.45 1378.12M642.85 1378.12L685.45 1335.52"/>
<path d="M667.88 1327.16L710.48 1369.76M667.88 1369.76L710.48 1327.16"/>
<path d="M692.92 1327.16L735.52 1369.76M692.92 1369.76L735.52 1327.16"/>
<path d="M717.96 1327.16L760.56 1369.76M717.96 1369.76L760.56 1327.16"/>
<path d="M751.34 1318.8L793.94 1361.4M751.34 1361.4L793.94 1318.8"/>
<path d="M776.38 1318.8L818.98 1361.4M776.38 1361.4L818.98 1318.8"/>
<path d="M801.42 1318.8L844.02 1361.4M801.42 1361.4L844.02 1318.8"/>
<path d="M826.46 1318.8L869.06 1361.4M826.46 1361.4L869.06 1318.8"/>
<path d="M851.5 1310.43L894.1 1353.03M851.5 1353.03L894.1 1310.43"/>
<path d="M884.88 1310.43L927.48 1353.03M884.88 1353.03L927.48 1310.43"/>
<path d="M909.92 1310.43L952.52 1353.03M909.92 1353.03L952.52 1310.43"/>
<path d="M934.96 1310.43L977.56 1353.03M934.96 1353.03L977.56 1310.43"/>
<path d="M959.99 1310.43L1002.59 1353.03M959.99 1353.03L1002.59 1310.43"/>
<path d="M985.03 1310.43L1027.63 1353.03M985.03 1353.03L1027.63 1310.43"/>
<path d="M1010.07 1310.43L1052.67 1353.03M1010.07 1353.03L1052.67 1310.43"/>
<path d="M1043.45 1310.43L1086.05 1353.03M1043.45 1353.03L1086.05 1310.43"/>
<path d="M1068.49 1310.43L1111.09 1353.03M1068.49 1353.03L1111.09 1310.43"/>
<path d="M1093.53 1310.43L1136.13 1353.03M1093.53 1353.03L1136.13 1310.43"/>
<path d="M1118.57 1310.43L1161.17 1353.03M1118.57 1353.03L1161.17 1310.43"/>
<path d="M1143.61 1302.07L1186.21 1344.67M1143.61 1344.67L1186.21 1302.07"/>
<path d="M1176.99 1302.07L1219.59 1344.67M1176.99 1344.67L1219.59 1302.07"/>
<path d="M1202.03 1302.07L1244.63 1344.67M1202.03 1344.67L1244.63 1302.07"/>
<path d="M1227.07 1302.07L1269.67 1344.67M1227.07 1344.67L1269.67 1302.07"/>
<path d="M1252.1 1302.07L1294.7 1344.67M1252.1 1344.67L1294.7 1302.07"/>
<path d="M1277.14 1302.07L1319.74 1344.67M1277.14 1344.67L1319.74 1302.07"/>
<path d="M1310.53 1293.71L1353.13 1336.31M1310.53 1336.31L1353.13 1293.71"/>
<path d="M1335.56 1293.71L1378.16 1336.31M1335.56 1336.31L1378.16 1293.71"/>
<path d="M1360.6 1293.71L1403.2 1336.31M1360.6 1336.31L1403.2 1293.71"/>
<path d="M1385.64 1293.71L1428.24 1336.31M1385.64 1336.31L1428.24 1293.71"/>
<path d="M1410.68 1285.35L1453.28 1327.95M1410.68 1327.95L1453.28 1285.35"/>
<path d="M1444.06 1285.35L1486.66 1327.95M1444.06 1327.95L1486.66 1285.35"/>
<path d="M1469.1 1276.99L1511.7 1319.59M1469.1 1319.59L1511.7 1276.99"/>
<path d="M1494.14 1268.62L1536.74 1311.22M1494.14 1311.22L1536.74 1268.62"/>
<path d="M1519.18 1268.62L1561.78 1311.22M1519.18 1311.22L1561.78 1268.62"/>
<path d="M1544.21 1251.9L1586.81 1294.5M1544.21 1294.5L1586.81 1251.9"/>
<path d="M1577.6 1251.9L1620.2 1294.5M1577.6 1294.5L1620.2 1251.9"/>
<path d="M1602.64 1243.54L1645.24 1286.14M1602.64 1286.14L1645.24 1243.54"/>
<path d="M1627.67 1235.18L1670.27 1277.78M1627.67 1277.78L1670.27 1235.18"/>
<path d="M1652.71 1218.45L1695.31 1261.05M1652.71 1261.05L1695.31 1218.45"/>
<path d="M1677.75 1210.09L1720.35 1252.69M1677.75 1252.69L1720.35 1210.09"/>
<path d="M1711.13 1201.73L1753.73 1244.33M1711.13 1244.33L1753.73 1201.73"/>
<path d="M1736.17 1185L1778.77 1227.6M1736.17 1227.6L1778.77 1185"/>
<path d="M1761.21 1176.64L1803.81 1219.24M1761.21 1219.24L1803.81 1176.64"/>
<path d="M1786.25 1176.64L1828.85 1219.24M1786.25 1219.24L1828.85 1176.64"/>
<path d="M1811.29 1168.28L1853.89 1210.88M1811.29 1210.88L1853.89 1168.28"/>
<path d="M1836.32 1159.92L1878.92 1202.52M1836.32 1202.52L1878.92 1159.92"/>
<path d="M1869.71 1151.56L1912.31 1194.16M1869.71 1194.16L1912.31 1151.56"/>
<path d="M1894.75 1151.56L1937.35 1194.16M1894.75 1194.16L1937.35 1151.56"/>
<path d="M1919.78 1143.19L1962.38 1185.79M1919.78 1185.79L1962.38 1143.19"/>
<path d="M1944.82 1134.83L1987.42 1177.43M1944.82 1177.43L1987.42 1134.83"/>
<path d="M1969.86 1134.83L2012.46 1177.43M1969.86 1177.43L2012.46 1134.83"/>
<path d="M2003.24 1126.47L2045.84 1169.07M2003.24 1169.07L2045.84 1126.47"/>
<path d="M2028.28 1126.47L2070.88 1169.07M2028.28 1169.07L2070.88 1126.47"/>
<path d="M2053.32 1118.11L2095.92 1160.71M2053.32 1160.71L2095.92 1118.11"/>
<path d="M2078.36 1118.11L2120.96 1160.71M2078.36 1160.71L2120.96 1118.11"/>
<path d="M2103.4 1109.75L2146 1152.35M2103.4 1152.35L2146 1109.75"/>
<path d="M2136.78 1109.75L2179.38 1152.35M2136.78 1152.35L2179.38 1109.75"/>
<path d="M2161.82 1101.38L2204.42 1143.98M2161.82 1143.98L2204.42 1101.38"/>
</g>
</svg></body></html>
